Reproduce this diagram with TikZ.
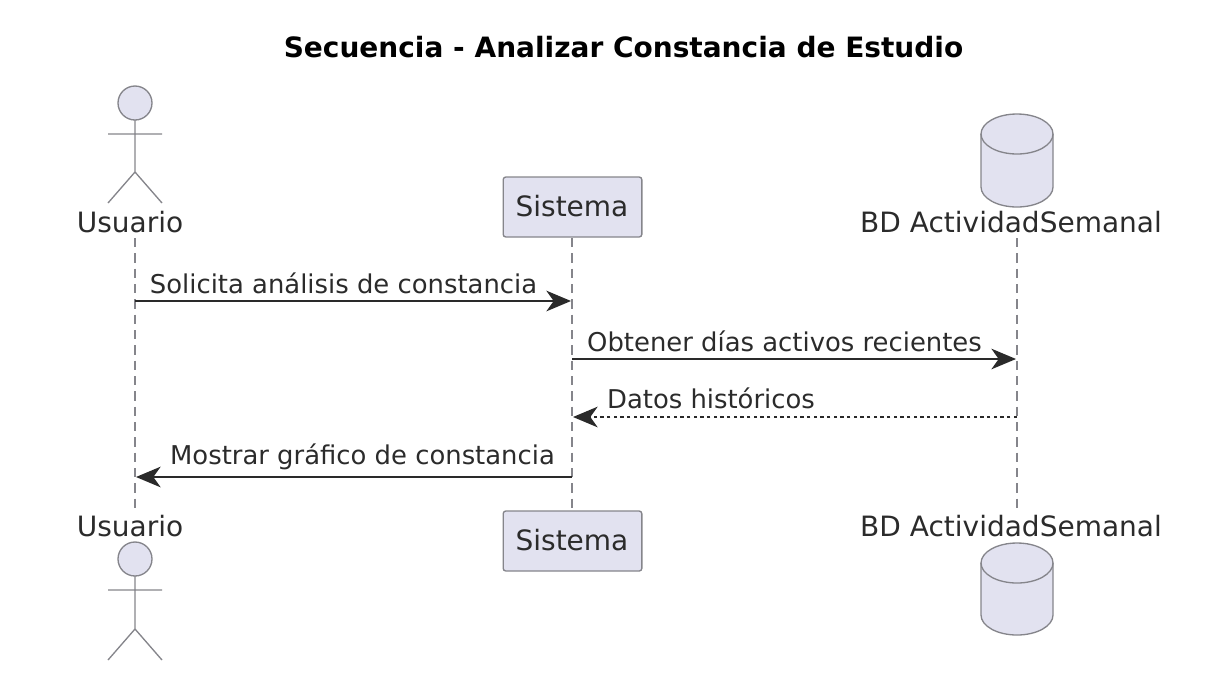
\documentclass[tikz,border=0pt]{standalone}
\usepackage{fontspec}
\setmainfont{DejaVu Sans}
\usetikzlibrary{arrows.meta}
\definecolor{partfill}{HTML}{E2E2F0}
\definecolor{partline}{HTML}{85858B}
\definecolor{msgline}{HTML}{2A2A2A}
\definecolor{txtcol}{HTML}{2B2B2B}
\begin{document}
\begin{tikzpicture}[
    x=0.75pt, y=-0.75pt,
    partname/.style={font=\fontsize{21}{25}\selectfont, text=txtcol, inner sep=0pt},
    msgtext/.style={font=\fontsize{19.4}{23}\selectfont, text=txtcol, inner sep=0pt},
    titletext/.style={font=\fontsize{21}{25}\selectfont\bfseries, text=black, inner sep=0pt},
    box/.style={draw=partline, fill=partfill, line width=1pt, rounded corners=2pt, minimum width=104pt, minimum height=45pt, inner sep=0pt},
    limb/.style={draw=partline, line width=1pt},
    body/.style={draw=partline, fill=partfill, line width=1pt},
    lifeline/.style={draw=partline, line width=0.9pt, dash pattern=on 7pt off 4.5pt},
    sync/.style={draw=msgline, line width=1.1pt, -{Stealth[length=18.5pt,width=15.5pt,inset=5.5pt,fill=msgline]}},
    reply/.style={draw=msgline, line width=1pt, dash pattern=on 2.5pt off 2.5pt, -{Stealth[length=18.5pt,width=15.5pt,inset=5.5pt,fill=msgline]}}
]
\useasboundingbox (0,0) rectangle (1226,683);

% Title
\node[titletext] (title) at (623.5,47) {Secuencia - Analizar Constancia de Estudio};

% Lifeline ends
\coordinate (u0) at (135,238);
\coordinate (u1) at (135,512);
\coordinate (s0) at (572,238);
\coordinate (s1) at (572,511);
\coordinate (d0) at (1017,238);
\coordinate (d1) at (1017,512);
\draw[lifeline] (u0) -- (u1);
\draw[lifeline] (s0) -- (s1);
\draw[lifeline] (d0) -- (d1);

% Usuario, top
\draw[body] (135,103) circle (12.75pt);
\draw[limb] (135,120) -- (135,172) (108,134) -- (162,134) (108,203) -- (135,172) -- (162,203);
\node[partname] (usuarioA) at (130,222) {Usuario};

% Usuario, bottom
\node[partname] (usuarioB) at (130,526) {Usuario};
\draw[body] (135,559) circle (12.75pt);
\draw[limb] (135,576) -- (135,629) (108,590) -- (162,590) (108,660) -- (135,629) -- (162,660);

% Sistema
\node[box] (sistemaA) at (572.5,207) {};
\node[partname] (sistemaAtext) at (572,206) {Sistema};
\node[box] (sistemaB) at (572.5,541) {};
\node[partname] (sistemaBtext) at (572,540) {Sistema};

% BD, top
\draw[body] (981,134) -- (981,187) arc[start angle=180, end angle=360, x radius=27pt, y radius=15pt] -- (1053,134) arc[start angle=0, end angle=180, x radius=27pt, y radius=15pt] -- cycle;
\draw[limb] (981,134) arc[start angle=180, end angle=360, x radius=27pt, y radius=15pt];
\node[partname] (bdA) at (1011,222) {BD ActividadSemanal};

% BD, bottom
\node[partname] (bdB) at (1011,526) {BD ActividadSemanal};
\draw[body] (981,563) -- (981,615) arc[start angle=180, end angle=360, x radius=27pt, y radius=15pt] -- (1053,563) arc[start angle=0, end angle=180, x radius=27pt, y radius=15pt] -- cycle;
\draw[limb] (981,563) arc[start angle=180, end angle=360, x radius=27pt, y radius=15pt];

% Messages
\coordinate (m1a) at (135,301);
\coordinate (m1b) at (571,301);
\coordinate (m2a) at (572,359);
\coordinate (m2b) at (1016,359);
\coordinate (m3a) at (1017,417);
\coordinate (m3b) at (573,417);
\coordinate (m4a) at (572,477);
\coordinate (m4b) at (136,477);
\draw[sync] (m1a) -- (m1b);
\draw[sync] (m2a) -- (m2b);
\draw[reply] (m3a) -- (m3b);
\draw[sync] (m4a) -- (m4b);
\node[msgtext] (m1) at (343.5,283) {Solicita análisis de constancia};
\node[msgtext] (m2) at (784.5,341) {Obtener días activos recientes};
\node[msgtext] (m3) at (711,398) {Datos históricos};
\node[msgtext] (m4) at (362.5,457) {Mostrar gráfico de constancia};
\end{tikzpicture}
\end{document}
